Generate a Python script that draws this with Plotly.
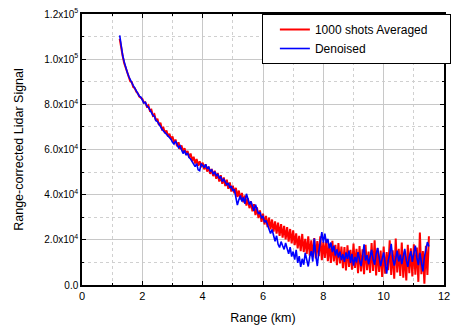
import numpy as np
import plotly.graph_objects as go

# Range grid (km), 0.05 km sampling from 1.25 to 11.5
range_start_km = 1.25
range_step_km = 0.05

# Range-corrected signal, in thousands
averaged_k = [
    # 1.25 - 1.95
    109.0, 104.2, 101.3, 98.2, 96.2, 93.6, 92.4, 90.2, 89.8, 87.6, 87.2, 85.6, 84.9, 83.4, 82.9,
    # 2.00 - 5.00
    82.4, 80.8, 80.9, 79.0, 79.6, 77.2, 77.6, 75.0, 75.6, 72.8, 73.6, 70.8, 71.8, 69.0, 69.6, 67.2,
    68.4, 65.8, 67.0, 64.4, 65.8, 63.0, 64.4, 61.4, 63.2, 60.2, 61.8, 58.8, 60.6, 57.6, 59.4, 56.4,
    58.2, 55.0, 56.8, 53.8, 55.8, 52.8, 54.8, 52.2, 54.2, 51.2, 53.4, 50.2, 52.4, 49.2, 51.4, 48.2,
    50.6, 47.0, 49.6, 45.8, 48.6, 44.8, 47.6, 43.8, 46.6, 42.6, 45.4, 41.4, 44.0,
    # 5.05 - 6.00
    40.6, 43.0, 39.0, 41.8, 37.8, 40.8, 36.6, 39.6, 35.2, 38.4, 34.0, 37.0, 32.6, 35.8, 31.0, 34.4,
    29.6, 33.0, 28.0, 31.6,
    # 6.05 - 7.00
    26.8, 30.6, 25.6, 29.8, 24.6, 29.0, 23.6, 28.2, 22.8, 27.6, 21.8, 27.0, 21.0, 26.2, 20.2, 25.6,
    19.2, 24.8, 18.4, 24.2,
    # 7.05 - 11.50
    17.6, 22.9, 16.2, 21.8, 15.0, 22.6, 14.6, 20.4, 13.8, 21.6,
    13.0, 19.8, 12.4, 20.8, 11.8, 19.4, 12.8, 21.6, 11.0, 19.0,
    12.0, 20.4, 10.6, 18.2, 9.8, 19.6, 10.4, 17.8, 8.8, 18.6,
    9.6, 17.0, 7.4, 16.8, 6.4, 17.6, 8.0, 15.6, 6.8, 18.4,
    7.6, 16.0, 5.2, 17.2, 6.0, 15.8, 4.8, 17.8, 6.6, 14.8,
    5.4, 18.6, 6.2, 19.8, 4.2, 16.4, 5.8, 15.2, 3.6, 17.0,
    5.0, 14.6, 6.6, 19.8, 4.4, 15.4, 2.8, 20.6, 5.6, 16.0,
    4.0, 18.8, 3.2, 14.8, 2.0, 17.8, 5.2, 16.2, 3.8, 18.0,
    4.6, 16.6, 1.4, 23.2, 4.8, 15.0, 0.6, 17.4, 4.4, 21.6,
]

denoised_k = [
    # 1.25 - 1.95
    110.5, 105.0, 101.5, 98.8, 96.0, 94.2, 92.3, 90.8, 89.6, 88.3, 87.2, 85.8, 84.9, 83.6, 83.2,
    # 2.00 - 3.95
    81.6, 80.6, 80.9, 79.2, 78.8, 77.4, 76.6, 75.2, 74.6, 72.8, 72.4, 71.0, 70.2, 69.0, 68.2, 67.8,
    66.8, 66.0, 65.0, 64.6, 63.2, 62.4, 63.8, 62.0, 60.8, 61.6, 59.8, 58.2, 59.6, 57.6, 58.4, 56.4,
    55.8, 54.6, 53.2, 52.4, 53.8, 51.0, 50.6, 53.6,
    # 4.00 - 8.00
    53.0, 52.0, 53.4, 51.6, 52.2, 50.4, 51.0, 49.0, 50.2, 48.4, 49.2, 47.2, 48.0, 45.8, 46.8, 45.6,
    44.4, 45.2, 43.0, 43.8, 41.6, 42.4, 39.0, 35.4, 37.8, 39.6, 37.0, 38.8, 36.0, 40.4, 38.2, 35.6,
    37.0, 34.2, 32.8, 35.6, 33.6, 31.4, 32.2, 29.8, 30.4, 27.8, 28.6, 26.4, 24.2, 22.8, 24.6, 21.2,
    19.4, 21.8, 18.0, 16.6, 19.2, 17.4, 15.8, 18.6, 16.2, 13.8, 16.8, 12.6, 14.8, 11.2, 15.6, 9.8,
    12.8, 8.0, 11.6, 9.0, 14.2, 11.4, 8.2, 12.6, 15.0, 10.4, 20.6, 13.0, 8.4, 14.8, 19.6, 23.4,
    18.8,
    # 8.05 - 11.50
    22.8, 18.6, 20.4, 16.2, 18.8, 14.6, 17.4, 13.0, 15.8, 12.2,
    14.8, 11.0, 13.6, 10.2, 14.4, 11.6, 15.2, 9.8, 13.8, 8.6,
    12.4, 10.0, 14.6, 11.2, 8.4, 12.6, 18.0, 10.8, 13.2, 9.2,
    12.0, 15.6, 11.4, 9.0, 13.8, 16.4, 12.2, 8.4, 11.6, 14.4,
    9.6, 5.0, 10.8, 13.6, 18.2, 11.8, 8.6, 12.4, 15.2, 10.4,
    13.4, 9.2, 12.8, 16.0, 11.0, 8.0, 12.6, 15.0, 10.2, 13.6,
    17.4, 12.0, 8.8, 14.2, 10.6, 6.0, 12.4, 16.2, 19.0, 17.0,
]

x_ticks = [0, 2, 4, 6, 8, 10, 12]
y_ticks = [0, 20000, 40000, 60000, 80000, 100000, 120000]
y_ticktext = ["0.0", "2.0x10<sup>4</sup>", "4.0x10<sup>4</sup>", "6.0x10<sup>4</sup>",
              "8.0x10<sup>4</sup>", "1.0x10<sup>5</sup>", "1.2x10<sup>5</sup>"]

x_avg = np.round(range_start_km + range_step_km * np.arange(len(averaged_k)), 3)
x_den = np.round(range_start_km + range_step_km * np.arange(len(denoised_k)), 3)
averaged = np.array(averaged_k) * 1000
denoised = np.array(denoised_k) * 1000

fig = go.Figure()
fig.add_trace(go.Scatter(x=x_avg, y=averaged, mode="lines",
                         name="1000 shots Averaged\u00a0\u00a0\u00a0\u00a0\u00a0",
                         line=dict(color="#ff0000", width=2)))
fig.add_trace(go.Scatter(x=x_den, y=denoised, mode="lines", name="Denoised",
                         line=dict(color="#0000ff", width=1.6)))

font = "Liberation Sans, Arial, sans-serif"
fig.update_layout(
    width=456, height=327,
    margin=dict(l=82, r=5, t=14, b=42),
    paper_bgcolor="white", plot_bgcolor="white",
    font=dict(family=font, size=11, color="black"),
    showlegend=True,
    legend=dict(x=1.019, xanchor="right", y=1, yanchor="top",
                bgcolor="white", bordercolor="black", borderwidth=1,
                font=dict(size=12, family=font), indentation=12),
    xaxis=dict(
        range=[0, 12], tickvals=x_ticks, ticktext=[str(v) for v in x_ticks],
        ticks="inside", ticklen=4, tickwidth=1, tickcolor="black",
        showline=True, linecolor="black", linewidth=1.5, mirror="allticks",
        showgrid=True, gridcolor="#c8c8c8", gridwidth=1, zeroline=False,
        minor=dict(dtick=1, tick0=0, ticks="inside", ticklen=2, tickcolor="black",
                   showgrid=True, gridcolor="#d0d0d0", griddash="dot", gridwidth=1),
        title=dict(text="Range (km)", font=dict(size=12.5), standoff=12),
        tickfont=dict(size=11),
    ),
    yaxis=dict(
        range=[0, 120000], tickvals=y_ticks, ticktext=y_ticktext,
        ticks="inside", ticklen=4, tickwidth=1, tickcolor="black",
        showline=True, linecolor="black", linewidth=1.5, mirror="allticks",
        showgrid=True, gridcolor="#c8c8c8", gridwidth=1, zeroline=False,
        minor=dict(dtick=10000, tick0=0, ticks="inside", ticklen=2, tickcolor="black",
                   showgrid=True, gridcolor="#d0d0d0", griddash="dot", gridwidth=1),
        title=dict(text="Range-corrected Lidar Signal", font=dict(size=12.5), standoff=18),
        tickfont=dict(size=10),
    ),
)

fig.write_html("out.html")
